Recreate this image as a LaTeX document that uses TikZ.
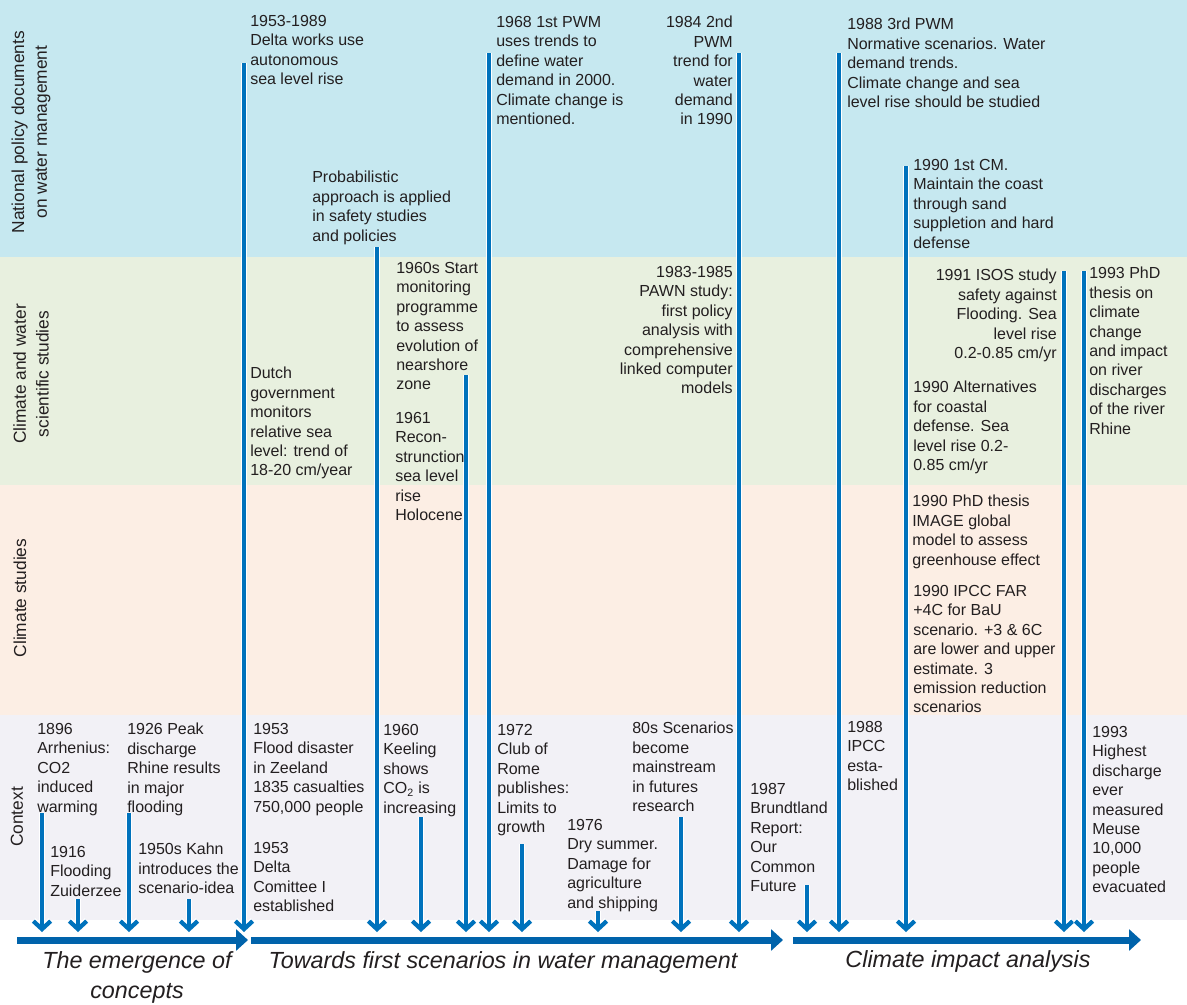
\documentclass[tikz,border=0pt]{standalone}
\usepackage{fontspec}
\setmainfont{Liberation Sans}
\usetikzlibrary{arrows.meta}

\definecolor{bandblue}{RGB}{198,232,240}
\definecolor{bandgreen}{RGB}{232,240,223}
\definecolor{bandpeach}{RGB}{252,238,228}
\definecolor{bandgrey}{RGB}{242,241,246}
\definecolor{evblue}{RGB}{0,114,188}
\definecolor{axblue}{RGB}{0,99,171}
\definecolor{ink}{RGB}{35,31,32}

\tikzset{
  lbl/.style={inner sep=0pt, text=ink, font=\fontsize{12}{14.55}\selectfont},
  evl/.style={lbl, anchor=north west, align=left},
  evr/.style={lbl, anchor=north east, align=right},
  bandlabel/.style={inner sep=0pt, text=ink, font=\fontsize{13}{17}\selectfont,
     rotate=90, align=center, anchor=center},
  phase/.style={inner sep=0pt, text=ink, font=\fontsize{17.5}{22.5}\selectfont\itshape, align=center},
  evarrow/.style={draw=evblue, line width=3.2pt, -{Straight Barb[length=6pt,width=13pt]},
     preaction={draw=white, line width=4.2pt, -{Straight Barb[length=6pt,width=13pt]}}},
  axis/.style={draw=axblue, line width=5.25pt, -{Triangle[length=9pt,width=15.75pt]}},
}

\begin{document}
\begin{tikzpicture}[x=0.75pt,y=-0.75pt]
\useasboundingbox (0,0) rectangle (1187,1004);
\fill[white] (0,0) rectangle (1187,1004);

% horizontal bands
\fill[bandblue]  (0,0)   rectangle (1187,257);
\fill[bandgreen] (0,257) rectangle (1187,485);
\fill[bandpeach] (0,485) rectangle (1187,715);
\fill[bandgrey]  (0,715) rectangle (1187,920);

% band titles
\node[bandlabel] (sPolicy)  at (31,132) {National policy documents\\on water management};
\node[bandlabel] (sScience) at (31,374) {Climate and water\\scientific studies};
\node[bandlabel] (sClimate) at (20,598) {Climate studies};
\node[bandlabel] (sContext) at (17,817) {Context};

% event arrows: top and foot of each
\foreach \n/\x/\t in {a1896/42/813, a1916/78/899, a1926/129/813, a1950/189/899,
                      aDelta/244/63, aProb/377/247, a1960/421/817, a1961/466/375,
                      a1968/489/53, a1972/522/844, a1976/598/911, a80s/681/817,
                      a1984/739/53, a1987/807/885, a1988/839/53, a1990/906/166,
                      aISOS/1064/271, aPhD/1084/271}{
  \coordinate (\n t) at (\x,\t);
  \coordinate (\n b) at (\x,932);
}
\foreach \n in {a1896,a1916,a1926,a1950,aDelta,aProb,a1960,a1961,a1968,a1972,
                a1976,a80s,a1984,a1987,a1988,a1990,aISOS,aPhD}{
  \draw[evarrow] (\n t) -- (\n b);
}

% policy documents
\node[evl] (tDelta) at (250,15) {1953-1989\\Delta works use\\autonomous\\sea level rise};
\node[evl] (tProb) at (312,171) {Probabilistic\\approach is applied\\in safety studies\\and policies};
\node[evl] (t1968) at (496,16) {1968 1st PWM\\uses trends to\\define water\\demand in 2000.\\Climate change is\\mentioned.};
\node[evr] (t1984) at (733,16) {1984 2nd\\PWM\\trend for\\water\\demand\\in 1990};
\node[evl] (t1988) at (847,18) {1988 3rd PWM\\Normative scenarios. Water\\demand trends.\\Climate change and sea\\level rise should be studied};
\node[evl] (t1990cm) at (913,159) {1990 1st CM.\\Maintain the coast\\through sand\\suppletion and hard\\defense};

% scientific studies
\node[evl] (t1960s) at (396,262) {1960s Start\\monitoring\\programme\\to assess\\evolution of\\nearshore\\zone};
\node[evl] (t1961) at (395,412) {1961\\Recon-\\strunction\\sea level\\rise\\Holocene};
\node[evl] (tDutch) at (250,367) {Dutch\\government\\monitors\\relative sea\\level: trend of\\18-20 cm/year};
\node[evr] (tPAWN) at (733,266) {1983-1985\\PAWN study:\\first policy\\analysis with\\comprehensive\\linked computer\\models};
\node[evr] (tISOS) at (1057,269) {1991 ISOS study\\safety against\\Flooding. Sea\\level rise\\0.2-0.85 cm/yr};
\node[evl] (tPhD93) at (1089,267) {1993 PhD\\thesis on\\climate\\change\\and impact\\on river\\discharges\\of the river\\Rhine};
\node[evl] (tAlt) at (913,381) {1990 Alternatives\\for coastal\\defense. Sea\\level rise 0.2-\\0.85 cm/yr};

% climate studies
\node[evl] (tIMAGE) at (912,495) {1990 PhD thesis\\IMAGE global\\model to assess\\greenhouse effect};
\node[evl] (tFAR) at (913,585) {1990 IPCC FAR\\+4C for BaU\\scenario. +3 \& 6C\\are lower and upper\\estimate. 3\\emission reduction\\scenarios};

% context
\node[evl] (t1896) at (37,723) {1896\\Arrhenius:\\CO2\\induced\\warming};
\node[evl] (t1916) at (50,846) {1916\\Flooding\\Zuiderzee};
\node[evl] (t1926) at (127,723) {1926 Peak\\discharge\\Rhine results\\in major\\flooding};
\node[evl] (tKahn) at (138,843) {1950s Kahn\\introduces the\\scenario-idea};
\node[evl] (t1953a) at (253,723) {1953\\Flood disaster\\in Zeeland\\1835 casualties\\750,000 people};
\node[evl] (t1953b) at (253,842) {1953\\Delta\\Comittee I\\established};
\node[evl] (tKeeling) at (383,724) {1960\\Keeling\\shows\\CO\textsubscript{2} is\\increasing};
\node[evl] (tRome) at (497,724) {1972\\Club of\\Rome\\publishes:\\Limits to\\growth};
\node[evl] (tDry) at (567,819) {1976\\Dry summer.\\Damage for\\agriculture\\and shipping};
\node[evl] (t80s) at (632,722) {80s Scenarios\\become\\mainstream\\in futures\\research};
\node[evl] (tBrundt) at (750,783) {1987\\Brundtland\\Report:\\Our\\Common\\Future};
\node[evl] (tIPCC) at (847,721) {1988\\IPCC\\esta-\\blished};
\node[evl] (tMeuse) at (1092,726) {1993\\Highest\\discharge\\ever\\measured\\Meuse\\10,000\\people\\evacuated};

% phase axis
\coordinate (ax1s) at (17,940);  \coordinate (ax1e) at (248,940);
\coordinate (ax2s) at (251,940); \coordinate (ax2e) at (783,940);
\coordinate (ax3s) at (793,940); \coordinate (ax3e) at (1141,940);
\draw[axis] (ax1s) -- (ax1e);
\draw[axis] (ax2s) -- (ax2e);
\draw[axis] (ax3s) -- (ax3e);

\node[phase, anchor=north] (pEmerg) at (137,951) {The emergence of\\concepts};
\node[phase, anchor=base] (pTowards) at (503,968) {Towards first scenarios in water management};
\node[phase, anchor=base] (pImpact) at (968,967) {Climate impact analysis};
\end{tikzpicture}
\end{document}
